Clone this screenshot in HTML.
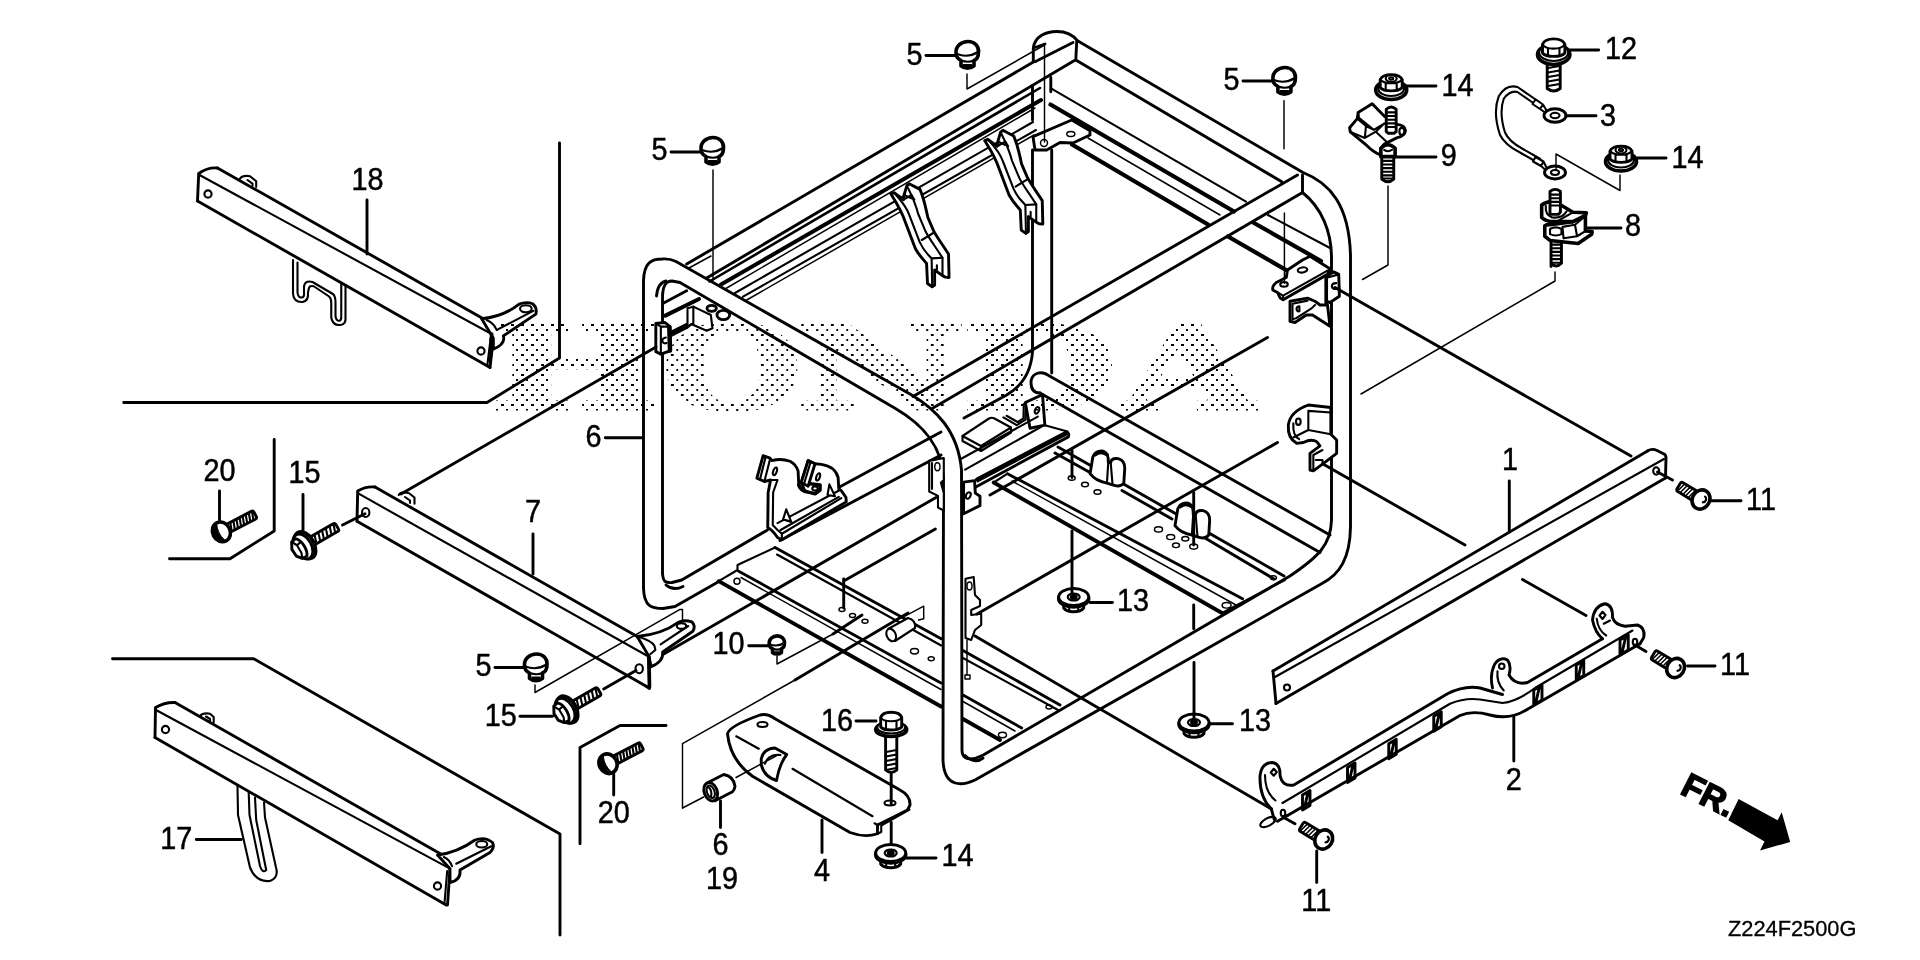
<!DOCTYPE html>
<html><head><meta charset="utf-8"><title>Frame parts diagram</title>
<style>
html,body{margin:0;padding:0;background:#fff;overflow:hidden}
svg{display:block;filter:grayscale(1)}
.k,.k *{stroke:#000;stroke-width:2.9;fill:none;vector-effect:non-scaling-stroke;stroke-linecap:round;stroke-linejoin:round}
.k .t,.t{stroke-width:1.45}
.k .m,.m{stroke-width:2.1}
.k .h,.h{stroke-width:3.6}
.k .w,.w{fill:#fff}
.k .b,.b{fill:#000}
text{font-family:"Liberation Sans",Arial,sans-serif;font-size:31px;fill:#000;stroke:#000;stroke-width:0.5px}
</style></head><body>
<svg width="1920" height="960" viewBox="0 0 1920 960">
<defs>
<pattern id="dots" x="1.4" y="3.5" width="10" height="10" patternUnits="userSpaceOnUse">
<rect x="0" y="0" width="2.2" height="2.2" fill="#000"/><rect x="5" y="5" width="2.2" height="2.2" fill="#000"/>
</pattern>
</defs>
<rect width="1920" height="960" fill="#fff"/>
<!--frame1.svg-->
<g class="k" id="frame-main">
<!-- A corner + A-D tube + D-D' vertical + D' corner + D'C' + C' + C vertical + C corner + B-C -->
<path d="M643.5,588 L643.5,281 C644,262 652,259 662,259 C669,258.5 672,259.5 676,261.5 L911.7,395 C935,409 958,430 961.5,470 L962,750 C962,757 966,760 975,758.5 L983.3,755 L1290,576 C1318,557 1331,545 1331.5,520 L1331.5,258 C1331.5,232 1322,208 1302.5,192.5"/>
<path d="M662.5,573 L662.5,298 C662.5,285 666,281 672,281 L680,282.5 L895,408.3 C922,424 942,445 943.5,478 L943,760 C944,788 962,786 975,780 L1322,583.5 C1340,574 1350,558 1350.5,527 L1350.5,255 C1349,205 1330,183 1303,172.5 L1077.5,40.8 C1073,35 1066,31.5 1057,31.5 C1046,31.5 1035,36 1033.3,48 L1033.3,62"/>
<path d="M656.5,296 C657.5,286 661,282 666,281"/>
<!-- A' corner -->
<path d="M643.5,588 C644,607 652,608.5 663,608.5 L675,606.5 L718,582"/>
<path d="M662.5,573 C663,582.5 666,583 672,582.5 L681.7,580 L767.5,530"/>
<path d="M666,585 C672,590 678,589 683,586.5"/>
<path d="M780,540.5 L941,455"/>
<path d="M840,486.7 L941,432"/>
<path d="M964,418 L1006.7,395 C1022,386 1031,372 1032.5,352 L1032.5,150"/>
<path d="M1051.7,373 L1051.7,150"/>
<path d="M965,755.5 C972,762 978,762 983,758"/>
<!-- B-C lower edge, C end face, D-C tube -->
<path d="M1075.8,60 L1281.7,181.7"/>
<path d="M1076.7,41.7 L1075.8,60"/>
<path d="M1302.5,175 L1302.5,192.5"/>
<path d="M913,396.5 L1297.5,175"/>
<path d="M931.7,408.7 L1302.5,192.5"/>
<!-- B'-C' cross tube with end cap -->
<path class="w" d="M1046,374 C1038,370.5 1031,375 1031,382.5 C1031,390 1035,393 1040,393"/>
<path d="M1046,374 L1330,535"/>
<path d="M1040,393 L1320,552.5"/>
<!-- B corner details -->
<path d="M1035,47.5 L1045,44"/>
<path d="M1035,61.7 L1073,42.5"/>
<path d="M1050.8,77.5 L1050.8,91.7"/>
<path d="M1032.5,85.8 L1032.5,120"/>
<!-- A-B tube edges -->
<path d="M686.7,264 L1032.5,62.5"/>
<path d="M706.7,278 L1074,60.8"/>
<path class="m" d="M709.500,281.500 L1040,88" style="stroke-width:2.6"/>
<path d="M721,284.500 L1041,100" style="stroke-width:4"/>
<path class="t" d="M725,289 L1035,108"/>
<path class="m" d="M735,293 L1033,122"/>
<path class="m" d="M743,296.7 L1036,130"/>
<path class="t" d="M746.7,300 L1034,135"/>
<path class="t" d="M689,268 L711,256"/>
<!-- rails B-C side -->
<path class="m" d="M1051,88.3 L1246,201.7 M1268,215 L1330,248"/>
<path d="M1050.5,104.5 L1234,211.5 M1254,223 L1321,261" style="stroke-width:4.2"/>
<path class="t" d="M1088,138 L1220,215"/>
<path d="M1072,144.5 L1208,224.5 M1228,236.5 L1287,270.5" style="stroke-width:4.2"/>
<!-- gusset at B -->
<path class="w" d="M1033,136.7 L1071.7,120 L1090,130.8 L1090,135 L1073,143 L1060,142.5 L1046.7,150 L1035,150 Z"/>
<ellipse cx="1070.8" cy="134" rx="4" ry="2.5" class="t"/>
<circle cx="1044" cy="143" r="3.5" class="t"/>
</g>

<!--frame2.svg-->
<!-- hangers -->
<g class="k" id="hangers" transform="translate(860 120) scale(.1875)">
<g id="hg1">
<path class="w" d="M165,395 L182,388 L232,425 L235,400 L250,350 L262,340 L320,370 C345,430 350,470 362,520 L392,590 C410,625 440,665 472,715 L475,840 L455,838 L440,830 L398,800 L398,880 L385,890 L360,872 L355,765 C340,745 320,730 295,685 L240,540 C220,480 200,450 165,395 Z"/>
<path class="m" d="M182,388 C215,425 245,455 262,505 L318,650 C340,700 365,720 382,738 L385,890"/>
<path class="m" d="M250,350 C275,400 295,440 310,500 L350,595 C370,635 395,665 440,735 L440,830"/>
<path class="m" d="M232,425 L275,400 L290,425 M235,400 L275,418 M330,640 L395,600 M382,738 L440,735 M410,775 L410,800"/>
</g>
<use href="#hg1" x="500" y="-285"/>
</g>
<!-- A corner bracket/hook -->
<g class="k" id="acorner" transform="translate(620 200) scale(.166667)">
<path d="M262,618 L400,545"/><path d="M272,694 L474,594" style="stroke-width:4"/><path d="M300,800 L430,735" style="stroke-width:4"/>
<path class="w" d="M215,740 L215,910 L245,925 L300,905 L300,760 L270,735 Z"/><path d="M296,762 L300,903" style="stroke-width:4.5"/>
<path class="m" d="M245,760 L245,925 M245,760 L215,740 M245,760 L300,760 M275,825 Q250,830 255,850 Q262,865 280,858"/>
<path class="w m" d="M405,650 L440,640 L545,690 L555,770 L520,785 L430,745 L405,765 Z"/>
<path class="m" d="M405,765 L300,820 M430,745 L320,800 M440,640 L440,745"/>
<ellipse cx="550" cy="650" rx="28" ry="18"/>
<ellipse cx="620" cy="690" rx="38" ry="28"/>
</g>
<!-- C corner gusset + hook -->
<g class="k" id="ccorner" transform="translate(1240 240) scale(.125)">
<path class="w" d="M262,400 Q255,370 290,340 L370,300 L380,240 L500,160 L560,130 L720,230 L700,275 L345,478 L320,462 L300,420 Z"/>
<path class="m" d="M300,420 L345,445 L700,245 M345,445 L345,478"/>
<ellipse class="m" cx="500" cy="240" rx="38" ry="20" transform="rotate(-10 500 240)"/>
<ellipse class="m" cx="352" cy="355" rx="30" ry="18"/>
<path class="w" d="M690,290 L750,255 L790,275 L795,450 L720,500 L690,490 Z"/>
<path class="h" d="M690,292 L690,515"/>
<path class="m" d="M700,300 L790,275 M770,345 Q735,345 735,372 Q740,395 770,392"/>
<path class="w" d="M400,490 L540,465 L600,490 L640,520 L700,520 L720,690 L580,600 L530,600 L440,660 L400,650 Z"/>
<path class="m" d="M420,510 L420,635 L450,625 L575,545 L600,520 M420,510 L540,485 M475,530 L475,570 Q455,575 452,550 Q455,530 475,530"/>
</g>
<!-- C' hook -->
<g class="k" id="cphook" transform="translate(1120 400) scale(.166667)">
<path class="w" d="M1265,45 L1130,30 Q1020,70 1010,150 Q1005,230 1060,260 L1100,255 Q1150,230 1180,250 L1200,275 L1140,320 L1140,420 L1160,425 L1215,385 L1300,320 L1300,240 L1265,205 Z"/>
<path class="m" d="M1130,65 L1130,180 L1040,225 M1130,180 L1265,205 M1040,140 Q1035,215 1075,235 M1130,65 L1265,75 M1160,425 L1160,330 L1215,300 M1175,360 L1215,360 L1215,385"/>
<ellipse class="m" cx="1070" cy="130" rx="14" ry="19"/>
</g>
<!-- inner bracket on A'B' tube -->
<g class="k" id="innerbr" transform="translate(740 430) scale(.125)">
<path class="w" d="M185,205 L240,225 L255,245 Q330,225 400,250 Q450,275 465,330 L470,440 Q485,480 520,490 L490,420 L545,245 L600,270 L650,275 Q760,290 785,380 L790,470 L810,485 L848,540 L850,575 L335,878 L300,860 Q260,800 222,780 L225,500 L245,400 L195,412 L135,385 Z"/>
<path class="m" d="M205,215 L160,395 M240,235 L195,412 M245,400 L300,400 L265,500 L262,760 L300,800 L335,830 L335,878 M300,745 L800,480 M335,830 L810,545 M325,800 L790,535"/>
<ellipse class="m" cx="280" cy="330" rx="14" ry="32" transform="rotate(20 280 330)"/>
<path class="w" d="M545,245 L490,420 L545,450 L600,270 Z"/>
<path class="m" d="M565,255 L512,432"/>
<ellipse class="m" cx="625" cy="375" rx="14" ry="30" transform="rotate(20 625 375)"/>
<path class="h" d="M470,440 Q490,490 540,495 L600,510 L640,480 L640,440 L560,430"/>
<ellipse class="m" cx="600" cy="468" rx="22" ry="16"/>
<path class="m w" d="M345,715 L370,635 L410,735 Z M700,520 L715,435 L760,530 Z"/>
</g>
<g class="k" id="bpbox">
<path class="w m" d="M962.5,436 L989,418.5 Q991.5,417 994,418.3 L1011,427.5 L1011,432.5 L981,451 L962.5,441 Z"/>
<path class="m" d="M962.5,436 L981,446 L1011,427.5 M981,446 L981,451"/>
</g>
<!-- B' bracket region (6.4x zoom origin 930,390) -->
<g class="k" id="bprime" transform="translate(930 390) scale(.15625)">
<path class="m" d="M470,175 L555,225 L612,190 L615,80 M490,165 L560,205 L598,182 L600,90"/>
<path class="w" d="M610,80 L720,30 L735,225 L640,245 Z"/>
<ellipse class="m" cx="685" cy="130" rx="13" ry="22" transform="rotate(25 685 130)"/>
<path class="m" d="M200,440 L690,170 M225,510 L712,235 M735,225 L880,265"/>
<path class="h" d="M300,572 L870,272"/>
<path class="m" d="M305,585 L872,285"/>
<path d="M870,268 Q895,275 885,300 L290,622"/>
<path class="w" d="M215,590 L285,580 L290,660 L320,680 L320,740 L215,792 Z"/>
<ellipse class="m" cx="245" cy="675" rx="14" ry="22" transform="rotate(25 245 675)"/>
</g>
<!-- base plate 1 (front-left) -->
<g class="k" id="plate1">
<path class="h" d="M718.7,581.2 L941,706.5 M963,719 L1000,740" style="stroke-width:3.8"/>
<path d="M738.7,571.2 L941,683 M963,695 L1021.7,728"/>
<path class="t" d="M741,577.5 L941,689.5 M963,701.5 L1015,731"/>
<path d="M775,547.5 L941.2,638.7 M963,650.5 L1060,705"/>
<path class="m" d="M777,554.5 L941.2,645.5 M963,658 L1058,710"/>
<path class="m" d="M718.7,581.2 L737.5,570 L737.5,565 L775,547.5"/>
<circle class="t" cx="737" cy="581.2" r="3"/>
<ellipse class="t" cx="842" cy="609.5" rx="3" ry="2"/>
<ellipse class="t" cx="852.5" cy="615.5" rx="3" ry="2"/>
<ellipse class="t" cx="865" cy="621.2" rx="3" ry="2"/>
<ellipse class="t" cx="914.5" cy="651.2" rx="4" ry="2.7"/>
<ellipse class="t" cx="931.2" cy="658.7" rx="3" ry="2"/>
<ellipse class="t" cx="1002.5" cy="735" rx="4" ry="2.7"/>
<ellipse class="t" cx="1049" cy="707" rx="3" ry="2"/>
<path class="w m" d="M888,629 L908,618 Q916,620 915,628 L895,641 Z"/>
<ellipse class="w m" cx="891.2" cy="635" rx="4.500" ry="6.500" transform="rotate(-25 891.2 635)"/>
<path class="t" d="M905,616.2 L923.7,606.2 L923.7,618.7 L918.7,620"/>
<!-- lower bracket on D tube right -->
<path class="m w" d="M965.500,578.700 L973.700,577 L975,595 L980,600 L980,606 L971.200,610 L971.200,615 L981.200,613.700 L981.200,625 L975,630 L971.200,640 L965.500,638 Z"/>
<ellipse class="t" cx="969.500" cy="586" rx="2.500" ry="4"/>
<path class="t" d="M967,640 L967,675 M965,675 L970,675 L970,679 L965,679 Z"/>
</g>
<!-- base plate 2 (back-right) -->
<g class="k" id="plate2">
<path class="h" d="M993.7,482.5 L1222,613" style="stroke-width:3.8"/>
<path d="M1007.5,473.7 L1242.5,598.7"/>
<path class="t" d="M1012,481 L1236,605"/>
<path d="M1058,447 L1095,468 M1120,482 L1178,515 M1208,532.500 L1284,576"/>
<path d="M1055,453 L1090,472.500 M1122,490.500 L1172,519 M1205,538 L1274,579"/>
<path class="m" d="M1222,613 L1285,580"/>
<path class="m" d="M993.7,482.5 L1007.5,473.7"/>
<ellipse class="t" cx="1071.7" cy="478" rx="3.500" ry="2.300"/>
<ellipse class="t" cx="1085" cy="484.5" rx="3.500" ry="2.300"/>
<ellipse class="t" cx="1097.5" cy="492" rx="3.500" ry="2.300"/>
<ellipse class="t" cx="1158.500" cy="529.400" rx="4" ry="2.600"/>
<ellipse class="t" cx="1170.700" cy="537" rx="4" ry="2.600"/>
<ellipse class="t" cx="1176" cy="545.300" rx="3.500" ry="2.300"/>
<ellipse class="t" cx="1185.300" cy="538.700" rx="3.500" ry="2.300"/>
<ellipse class="t" cx="1193.700" cy="546.600" rx="4" ry="2.600"/>
<ellipse class="t" cx="1226.600" cy="605.300" rx="4.500" ry="2.800"/>
<ellipse class="t" cx="1273.400" cy="577.700" rx="3" ry="2"/>
<g transform="translate(1100 460) scale(.1875)">
<g id="rmount">
<path class="w" d="M400,350 L415,260 Q430,225 470,230 Q500,240 497,290 L510,290 Q515,265 550,270 Q585,280 585,320 L580,400 Q560,425 520,410 L490,400 Q430,390 400,350 Z"/>
<path class="m" d="M497,290 L490,400 M510,290 L520,410"/>
<path class="h" d="M428,248 Q455,226 490,248"/>
</g>
<use href="#rmount" x="-453" y="-277"/>
</g>
</g>
<g class="k" id="dleft">
<path class="w m" d="M929.2,460.9 L943.8,458 L943.8,479.9 L940.9,482.8 L943.8,493 L943.8,510.5 L938,507.6 L938,495.9 L929.2,491.5 Z"/>
<ellipse class="t" cx="937.4" cy="466.7" rx="2.600" ry="4"/>
<path class="m" d="M932,463 L932,489"/>
</g>

<!--bars.svg-->
<g class="k" id="part18">
<path d="M217.5,168 L482,318"/>
<path class="m" d="M199.5,175 L493.5,335"/>
<path d="M197.5,201 L490,367.5"/>
<path d="M217.5,168 Q208,167 198.7,173.5 L197.5,201"/>
<path d="M493.7,335 L490,367.5"/>
<path class="m" d="M490.7,338 L487.3,365.5"/>
<circle class="m" cx="208" cy="194" r="3.6"/>
<circle class="m" cx="481" cy="351" r="3.6"/>
<path class="m" d="M240,178.7 Q242.5,175 250,176.2 L256.2,181.2 L256.2,187 M247.5,180 L252.5,183.7 L252.5,186"/>
<g transform="translate(100 130) scale(.25)">
<path class="m" d="M772,520 L772,655 Q775,690 810,688 Q835,685 832,650 L835,635 Q838,620 855,625 L915,665 Q925,672 925,690 L925,750 Q930,782 960,780 Q985,778 982,750 L982,620"/>
<path class="m" d="M790,530 L790,650 Q792,672 808,670 Q818,668 816,650 L816,625 Q820,600 850,608 L930,655 Q942,662 942,690 L942,745 Q945,765 958,763 Q966,760 965,745 L965,615"/>
</g>
<g transform="translate(440 280) scale(.083333)">
<path class="w" d="M500,465 Q760,440 950,290 Q1040,255 1110,285 Q1170,330 1150,410 L760,670 Q790,770 640,830 L640,700 Z"/>
<path class="m" d="M1120,370 L700,590 M560,480 Q650,520 680,600"/>
<ellipse class="m" cx="1030" cy="345" rx="70" ry="42"/>
<path class="h" d="M620,650 L600,960"/>
</g>
</g>
<g class="k" id="part7">
<path d="M375,487 L637.2,636.5"/>
<path class="m" d="M358.7,493.7 L648.5,656.5"/>
<path d="M357,521.2 L646.2,686.2"/>
<path d="M375,487 Q366,486 357.7,491 L357,521.2"/>
<path d="M648.5,656.5 L649.5,688.5 L646.2,686.2"/>
<ellipse class="m" cx="365.7" cy="512.5" rx="3.7" ry="4.5"/>
<ellipse class="m" cx="639.2" cy="668.7" rx="3.7" ry="4.5"/>
<path class="m" d="M398.7,495 Q401,491 408.7,493 L414.5,497.5 L414.5,503.7 M405,497 L410,500.5 L410,503"/>
<path class="w" d="M637.2,636.5 Q661.7,634.4 678.3,622.4 Q684,619.5 691.9,621.9 Q696,626 692.9,631.2 L662.7,652 Q663.7,661.5 651.2,666.7 L649,656.5 Z"/>
<path class="m" d="M688.2,626 L660.6,644.3 M639.3,637 Q652,641 654.4,645.8 L655.4,650 L650.2,654.2"/>
<ellipse class="m" cx="681.5" cy="626" rx="4.7" ry="2.9"/>
<path class="h" d="M649,657 L649.5,687"/>

</g>
<g class="k" id="part17">
<path d="M175,702.5 L442.5,855"/>
<path class="m" d="M156,710 L450,868.7"/>
<path d="M155,737.5 L446.2,905"/>
<path d="M175,702.5 Q165,702 155.5,707.5 L155,737.5"/>
<path d="M450,868.7 L447.5,905"/>
<path class="m" d="M447.2,871 L444.5,903"/>
<circle class="m" cx="165.5" cy="729.5" r="3.6"/>
<circle class="m" cx="437.5" cy="886" r="3.6"/>
<path class="m" d="M200,716.2 Q202.5,712.5 210,713.7 L213.7,717 L213.7,722.5 M206,716.5 L210,719 L210,722"/>
<path class="m" d="M237.5,786 L238,815 L250,867.5 Q256,882.5 270,881 Q279,877.5 276,867.5 L265,817.5 L264,802.5"/>
<path class="m" d="M248.7,792.5 L249.5,815 L260,866 Q262.5,873.7 266.2,870 L256.2,820 L255,797.5"/>
<g transform="translate(100 720) scale(.25)">
<path class="w" d="M1350,540 Q1430,530 1500,480 Q1540,465 1570,490 Q1580,510 1560,530 L1440,600 Q1445,640 1400,650 L1400,595 Z"/>
<path class="m" d="M1565,505 L1425,575 M1375,548 Q1400,560 1408,585"/>
<ellipse class="m" cx="1527" cy="497" rx="22" ry="13"/>
</g>
</g>
<g class="k" id="part1">
<path d="M1273,671 L1647.5,451"/>
<path class="m" d="M1275,677 L1664,459"/>
<path d="M1276,703.5 L1665.5,478"/>
<path d="M1273,671 L1276,703.5"/>
<path d="M1647.5,451 Q1652,448 1657,450.5 L1664,454 Q1666,455 1666,458 L1665.5,478"/>
<circle class="m" cx="1287" cy="687.5" r="3"/>
<ellipse class="m" cx="1656.2" cy="471" rx="3" ry="3.7"/>
</g>

<!--misc.svg-->
<g class="k" id="part2" transform="translate(1240 600) scale(.25)">
<path d="M125,835 Q78,790 80,705 Q85,650 130,650 Q162,655 160,700 Q168,748 215,740 L830,375 Q900,340 960,352 L1050,378"/>
<path class="m" d="M100,700 Q100,770 142,802"/>
<path class="m" d="M123,690 L135,675 L147,688 L135,703 Z"/>
<path class="m" d="M170,812 L840,415 Q900,390 960,398 L1050,412 Q1110,405 1180,352 L1570,122"/>
<path d="M190,862 L880,462 Q930,440 1000,460 Q1080,482 1150,437 L1600,175"/>
<path d="M1010,352 Q998,300 1018,258 Q1040,225 1070,240 Q1087,262 1076,300 Q1100,342 1150,330 L1450,155"/>
<path class="m" d="M1030,285 Q1025,330 1055,362"/>
<circle class="m" cx="1047" cy="265" r="11"/>
<path d="M1450,155 Q1420,130 1410,80 Q1415,25 1460,15 Q1492,20 1490,70 Q1500,100 1540,105 L1590,100 Q1622,110 1615,150 L1600,175"/>
<path class="m" d="M1427,75 Q1432,122 1465,142 M1455,95 L1480,82"/>
<path class="m" d="M1438,62 L1450,47 L1462,60 L1450,76 Z"/>
<ellipse class="m" cx="1580" cy="168" rx="9" ry="13"/>
<path d="M125,835 L137,878 M190,862 L150,885"/>
<ellipse class="m" cx="112" cy="888" rx="34" ry="15" transform="rotate(-28 112 888)"/>
<ellipse class="m" cx="172" cy="852" rx="9" ry="13"/>
<g class="t">
<path d="M250,780 L280,762 L280,822 L250,840 Z M257,836 L272,768"/>
<path d="M430,670 L460,652 L460,712 L430,730 Z M437,726 L452,658"/>
<path d="M595,575 L625,557 L625,617 L595,635 Z M602,631 L617,563"/>
<path d="M775,465 L805,447 L805,507 L775,525 Z M782,521 L797,453"/>
<path d="M1175,360 L1208,340 L1208,400 L1175,420 Z M1182,416 L1198,346"/>
<path d="M1345,260 L1375,242 L1375,302 L1345,320 Z M1352,316 L1367,248"/>
<path d="M1520,160 L1553,140 L1553,200 L1520,220 Z M1527,216 L1543,146"/>
</g>
</g>
<g class="k" id="part4" transform="translate(540 680) scale(.25)">
<path class="w" d="M750,215 Q755,185 880,140 Q910,133 940,155 L1440,440 Q1482,462 1480,500 L1470,520 L1350,580 L1350,615 Q1300,632 1240,610 L850,385 Q760,320 750,215 Z"/>
<path class="m" d="M785,225 L875,275 M1010,355 L1330,545"/>
<path class="m" d="M1350,615 L1365,608 L1365,582 L1478,518 M1350,580 L1338,573"/>
<path d="M885,315 Q893,275 940,272 L987,298 Q958,335 946,402 Q898,388 885,340 Z"/>
<path class="m" d="M900,335 Q912,296 962,300"/>
<ellipse class="m" cx="890" cy="178" rx="20" ry="10"/>
<ellipse class="m" cx="1400" cy="492" rx="22" ry="10"/>
<!-- collar 19 -->
<path class="w" d="M668,412 L735,378 Q775,385 780,425 Q778,440 770,447 L700,483 Z"/>
<ellipse class="w" cx="683" cy="447" rx="26" ry="38" transform="rotate(-20 683 447)"/>
<ellipse class="m" cx="683" cy="447" rx="15" ry="26" transform="rotate(-20 683 447)"/>
<path class="m" d="M676,430 Q690,445 684,468"/>
</g>
<g class="k m" id="thinlines">
<path d="M891.2,774 L891.2,804"/>
<path d="M891.2,822.5 L891.2,845"/>
</g>
<!-- bolt 16 -->
<g class="k" id="bolt16">
<path class="w" d="M885.6,733 L885.6,770 Q891.2,775 896.8,770 L896.8,733 Z"/>
<path class="m" d="M886,752 L896.5,750 M886,756.500 L896.5,754.500 M886,761 L896.5,759 M886,765.500 L896.5,763.500 M886,770 L896.5,768"/>
<ellipse class="w h" cx="891.2" cy="729.500" rx="15.5" ry="7"/>
<ellipse class="w m" cx="891.2" cy="727.500" rx="14" ry="6"/>
<path class="w" d="M880.7,727 L880.7,717.500 C883,710.500 899.400,710.500 901.700,717.500 L901.700,727 C898,731 884,731 880.700,727 Z"/>
<path class="m" d="M880.7,717.500 C884,722.500 898,722.500 901.700,717.500 M886,721 L886,729.500 M896.5,721 L896.5,729.500"/>
</g>
<!-- bolt 12 -->
<g class="k" id="bolt12">
<path class="w" d="M1547.2,60 L1547.2,88.500 Q1553.700,93.500 1560.200,88.500 L1560.200,60 Z"/>
<path class="m" d="M1548,68 L1559.500,66 M1548,72.500 L1559.500,70.500 M1548,77 L1559.500,75 M1548,81.500 L1559.500,79.500 M1548,86 L1559.500,84"/>
<ellipse class="w h" cx="1553.7" cy="54.500" rx="16.2" ry="10"/>
<ellipse class="w m" cx="1553.7" cy="52.500" rx="14.5" ry="8.500"/>
<path class="w" d="M1542.500,53 L1542.500,44.500 C1545,37 1562.400,37 1564.900,44.500 L1564.900,53 C1561,57.500 1546,57.500 1542.500,53 Z"/>
<path class="m" d="M1542.500,44.500 C1546,50 1561,50 1564.900,44.500 M1548,48.500 L1548,56 M1559.500,48.500 L1559.500,56"/>
</g>
<!-- cable 3 -->
<g class="k" id="cable3" transform="translate(1320 0) scale(.25)">
<path class="m" d="M880,410 L790,348 Q745,335 715,385 Q690,450 720,540 Q740,580 800,610 L870,650"/>
<path class="m" d="M870,424 L790,368 Q760,360 735,395 Q715,450 740,530 Q755,565 810,595 L880,635"/>
<path class="m w" d="M862,398 L892,418 L880,436 L850,416 Z M892,418 L905,440 M880,436 L900,450"/>
<ellipse class="w" cx="940" cy="462" rx="44" ry="27"/>
<ellipse class="m" cx="940" cy="462" rx="18" ry="11"/>
<path class="m w" d="M862,628 L894,646 L884,664 L852,646 Z M894,646 L905,668 M884,664 L900,678"/>
<ellipse class="w" cx="940" cy="690" rx="42" ry="26"/>
<ellipse class="m" cx="940" cy="690" rx="16" ry="10"/>
</g>
<!-- part 9 -->
<g class="k" id="part9" transform="translate(1330 90) scale(.104167)">
<path class="w" d="M405,132 L270,215 L262,275 L188,362 L195,402 L355,535 Q420,600 490,625 L500,560 Q500,520 550,505 L640,460 Q720,440 725,390 Q720,335 640,330 L520,250 Z"/>
<path class="m" d="M270,215 L278,268 L420,382 L520,322 M262,275 L345,345 L335,460 L440,400 M345,345 L420,382 M335,460 L195,402 M440,400 L550,505 M440,400 L520,322 L640,330"/>
<ellipse class="m" cx="690" cy="398" rx="24" ry="34"/>
<path class="w" d="M540,400 L540,185 Q587,140 635,185 L635,400 L615,415 L560,415 Z"/>
<path class="m" d="M545,215 L630,215 M545,250 L630,250 M545,285 L630,285 M545,320 L630,320 M545,355 L630,355"/>
<path class="w" d="M497,640 L497,855 Q555,905 612,855 L612,640 Z"/>
<path class="m" d="M500,680 L610,680 M500,715 L610,715 M500,750 L610,750 M500,785 L610,785 M500,820 L610,820 M500,850 L610,850"/>
<path class="w h" d="M488,640 L488,560 Q555,490 625,560 L625,640 Z"/>
<path class="m" d="M520,575 Q555,600 595,575"/>
</g>
<!-- part 8 -->
<g class="k" id="part8" transform="translate(1500 180) scale(.104167)">
<path class="w" d="M490,830 L490,580 L590,580 L590,800 Q540,850 490,800 Z"/>
<path class="m" d="M495,620 L585,620 M495,655 L585,655 M495,690 L585,690 M495,725 L585,725 M495,760 L585,760 M495,795 L585,795"/>
<path class="w h" d="M430,440 L430,540 L480,580 L750,610 L880,520 L885,495 L820,490 L820,340 L700,400 L480,430 Q445,425 430,440 Z"/>
<path class="m" d="M600,450 L720,430 L740,540 L610,560 Z M720,430 L820,345 M740,540 L820,490 M480,470 Q535,440 590,470 L590,520 Q535,545 480,520 Z"/>
<path class="w h" d="M400,240 L400,360 Q440,400 520,400 L700,400 L820,340 L830,315 L700,310 L600,250 Q500,170 400,240 Z"/>
<path class="m" d="M440,250 Q430,330 500,360 Q600,370 640,300 M560,390 L700,310"/>
<path class="w" d="M480,330 L480,110 Q530,70 580,110 L580,310 L560,330 Z"/>
<path class="m" d="M485,140 L575,140 M485,175 L575,175 M485,210 L575,210 M485,245 L575,245"/>
</g>

<!--hardware-->
<g class="k" transform="translate(967.5 52) scale(1.0)">
<path class="w h" d="M-11.5,1 C-12,-6 -6,-10.5 0.5,-10.5 C7,-10.5 11.5,-6 11,0 C11,4 9,7.5 6.5,8.5 L6.5,14 C3,17 -3,17 -6.5,14 L-6.5,8.5 C-9.5,7 -11.5,4.5 -11.5,1 Z"/>
<path class="m" d="M-10.5,2 C-4,4.5 4,4 10.5,0"/>
<path class="m" d="M-6.5,8.5 C-2,10 3,10 6.5,8.5"/>
<path class="b" d="M-4.5,12 L4.5,12 L4.5,15 C2,16 -2,16 -4.5,15 Z" style="stroke:none"/>
</g>
<g class="k" transform="translate(712.5 148) scale(1.0)">
<path class="w h" d="M-11.5,1 C-12,-6 -6,-10.5 0.5,-10.5 C7,-10.5 11.5,-6 11,0 C11,4 9,7.5 6.5,8.5 L6.5,14 C3,17 -3,17 -6.5,14 L-6.5,8.5 C-9.5,7 -11.5,4.5 -11.5,1 Z"/>
<path class="m" d="M-10.5,2 C-4,4.5 4,4 10.5,0"/>
<path class="m" d="M-6.5,8.5 C-2,10 3,10 6.5,8.5"/>
<path class="b" d="M-4.5,12 L4.5,12 L4.5,15 C2,16 -2,16 -4.5,15 Z" style="stroke:none"/>
</g>
<g class="k" transform="translate(1284.4 78) scale(1.0)">
<path class="w h" d="M-11.5,1 C-12,-6 -6,-10.5 0.5,-10.5 C7,-10.5 11.5,-6 11,0 C11,4 9,7.5 6.5,8.5 L6.5,14 C3,17 -3,17 -6.5,14 L-6.5,8.5 C-9.5,7 -11.5,4.5 -11.5,1 Z"/>
<path class="m" d="M-10.5,2 C-4,4.5 4,4 10.5,0"/>
<path class="m" d="M-6.5,8.5 C-2,10 3,10 6.5,8.5"/>
<path class="b" d="M-4.5,12 L4.5,12 L4.5,15 C2,16 -2,16 -4.5,15 Z" style="stroke:none"/>
</g>
<g class="k" transform="translate(536 664.5) scale(1.0)">
<path class="w h" d="M-11.5,1 C-12,-6 -6,-10.5 0.5,-10.5 C7,-10.5 11.5,-6 11,0 C11,4 9,7.5 6.5,8.5 L6.5,14 C3,17 -3,17 -6.5,14 L-6.5,8.5 C-9.5,7 -11.5,4.5 -11.5,1 Z"/>
<path class="m" d="M-10.5,2 C-4,4.5 4,4 10.5,0"/>
<path class="m" d="M-6.5,8.5 C-2,10 3,10 6.5,8.5"/>
<path class="b" d="M-4.5,12 L4.5,12 L4.5,15 C2,16 -2,16 -4.5,15 Z" style="stroke:none"/>
</g>
<g class="k" transform="translate(777 643) scale(0.68)">
<path class="w h" d="M-11.5,1 C-12,-6 -6,-10.5 0.5,-10.5 C7,-10.5 11.5,-6 11,0 C11,4 9,7.5 6.5,8.5 L6.5,14 C3,17 -3,17 -6.5,14 L-6.5,8.5 C-9.5,7 -11.5,4.5 -11.5,1 Z"/>
<path class="m" d="M-10.5,2 C-4,4.5 4,4 10.5,0"/>
<path class="m" d="M-6.5,8.5 C-2,10 3,10 6.5,8.5"/>
<path class="b" d="M-4.5,12 L4.5,12 L4.5,15 C2,16 -2,16 -4.5,15 Z" style="stroke:none"/>
</g>
<g class="k" transform="translate(1701 499.5) rotate(211)">
<path class="w" d="M7.4,-5.2 L24,-5.2 Q26,-5.2 26,-3.2 L26,3.2 Q26,5.2 24,5.2 L7.4,5.2 Z"/>
<path class="t" d="M11.9,-4.7 l-2.5,9.4"/><path class="t" d="M15.1,-4.7 l-2.5,9.4"/><path class="t" d="M18.2,-4.7 l-2.5,9.4"/><path class="t" d="M21.4,-4.7 l-2.5,9.4"/><path class="t" d="M24.5,-4.7 l-2.5,9.4"/>
<ellipse class="w h" cx="0" cy="0" rx="8.6" ry="9.9"/>
<path class="m" d="M-2,4.5 C-5,4 -5.5,0 -3,-1.5"/>
</g>
<g class="k" transform="translate(1675.6 668) rotate(211)">
<path class="w" d="M7.4,-5.2 L24,-5.2 Q26,-5.2 26,-3.2 L26,3.2 Q26,5.2 24,5.2 L7.4,5.2 Z"/>
<path class="t" d="M11.9,-4.7 l-2.5,9.4"/><path class="t" d="M15.1,-4.7 l-2.5,9.4"/><path class="t" d="M18.2,-4.7 l-2.5,9.4"/><path class="t" d="M21.4,-4.7 l-2.5,9.4"/><path class="t" d="M24.5,-4.7 l-2.5,9.4"/>
<ellipse class="w h" cx="0" cy="0" rx="8.6" ry="9.9"/>
<path class="m" d="M-2,4.5 C-5,4 -5.5,0 -3,-1.5"/>
</g>
<g class="k" transform="translate(1323.7 839.5) rotate(211)">
<path class="w" d="M7.4,-5.2 L24,-5.2 Q26,-5.2 26,-3.2 L26,3.2 Q26,5.2 24,5.2 L7.4,5.2 Z"/>
<path class="t" d="M11.9,-4.7 l-2.5,9.4"/><path class="t" d="M15.1,-4.7 l-2.5,9.4"/><path class="t" d="M18.2,-4.7 l-2.5,9.4"/><path class="t" d="M21.4,-4.7 l-2.5,9.4"/><path class="t" d="M24.5,-4.7 l-2.5,9.4"/>
<ellipse class="w h" cx="0" cy="0" rx="8.6" ry="9.9"/>
<path class="m" d="M-2,4.5 C-5,4 -5.5,0 -3,-1.5"/>
</g>
<g class="k" transform="translate(221.4 531.9) rotate(-27.5)">
<path class="w" d="M7.6,-4.4 L36,-4.4 Q38,-4.4 38,-2.4 L38,2.4 Q38,4.4 36,4.4 L7.6,4.4 Z"/>
<path class="m" d="M12.1,-3.9 l-2.5,7.8"/><path class="m" d="M15.6,-3.9 l-2.5,7.8"/><path class="m" d="M19.1,-3.9 l-2.5,7.8"/><path class="m" d="M22.6,-3.9 l-2.5,7.8"/><path class="m" d="M26,-3.9 l-2.5,7.8"/><path class="m" d="M29.5,-3.9 l-2.5,7.8"/><path class="m" d="M33,-3.9 l-2.5,7.8"/><path class="m" d="M36.5,-3.9 l-2.5,7.8"/>
<ellipse class="w h" cx="0" cy="0" rx="8.8" ry="10.1"/>
<path class="b" d="M-1,-8.1 C-3,-3 -3,3 -1,8.1 C-11.6,6.6 -11.6,-6.6 -1,-8.1 Z" style="stroke-width:1"/>
</g>
<g class="k" transform="translate(608 763.7) rotate(-27.5)">
<path class="w" d="M7.6,-4.4 L36,-4.4 Q38,-4.4 38,-2.4 L38,2.4 Q38,4.4 36,4.4 L7.6,4.4 Z"/>
<path class="m" d="M12.1,-3.9 l-2.5,7.8"/><path class="m" d="M15.6,-3.9 l-2.5,7.8"/><path class="m" d="M19.1,-3.9 l-2.5,7.8"/><path class="m" d="M22.6,-3.9 l-2.5,7.8"/><path class="m" d="M26,-3.9 l-2.5,7.8"/><path class="m" d="M29.5,-3.9 l-2.5,7.8"/><path class="m" d="M33,-3.9 l-2.5,7.8"/><path class="m" d="M36.5,-3.9 l-2.5,7.8"/>
<ellipse class="w h" cx="0" cy="0" rx="8.8" ry="10.1"/>
<path class="b" d="M-1,-8.1 C-3,-3 -3,3 -1,8.1 C-11.6,6.6 -11.6,-6.6 -1,-8.1 Z" style="stroke-width:1"/>
</g>
<g class="k" transform="translate(301.6 547.2) rotate(-30)">
<path class="w" d="M8,-4.5 L39,-4.5 Q41,-4.5 41,-2.5 L41,2.5 Q41,4.5 39,4.5 L8,4.5 Z"/>
<path class="m" d="M13,-4 l-2.5,8"/><path class="m" d="M17.3,-4 l-2.5,8"/><path class="m" d="M21.7,-4 l-2.5,8"/><path class="m" d="M26,-4 l-2.5,8"/><path class="m" d="M30.3,-4 l-2.5,8"/><path class="m" d="M34.7,-4 l-2.5,8"/><path class="m" d="M39,-4 l-2.5,8"/>
<ellipse class="w h" cx="4" cy="0" rx="9" ry="14.5"/>
<ellipse class="w" cx="1.5" cy="0" rx="8.5" ry="13.5"/>
<path class="w" d="M-1,-10.5 L-6,-9.5 L-9.5,-3 L-9,5 L-5,10 L0,10.5 C4,6 4,-6 -1,-10.5 Z"/>
<path class="m" d="M-6,-9.5 L-3,-4 L-3,5 L-5,10 M-3,-4 L2,-5"/>
</g>
<g class="k" transform="translate(563.7 711.5) rotate(-30)">
<path class="w" d="M8,-4.5 L39,-4.5 Q41,-4.5 41,-2.5 L41,2.5 Q41,4.5 39,4.5 L8,4.5 Z"/>
<path class="m" d="M13,-4 l-2.5,8"/><path class="m" d="M17.3,-4 l-2.5,8"/><path class="m" d="M21.7,-4 l-2.5,8"/><path class="m" d="M26,-4 l-2.5,8"/><path class="m" d="M30.3,-4 l-2.5,8"/><path class="m" d="M34.7,-4 l-2.5,8"/><path class="m" d="M39,-4 l-2.5,8"/>
<ellipse class="w h" cx="4" cy="0" rx="9" ry="14.5"/>
<ellipse class="w" cx="1.5" cy="0" rx="8.5" ry="13.5"/>
<path class="w" d="M-1,-10.5 L-6,-9.5 L-9.5,-3 L-9,5 L-5,10 L0,10.5 C4,6 4,-6 -1,-10.5 Z"/>
<path class="m" d="M-6,-9.5 L-3,-4 L-3,5 L-5,10 M-3,-4 L2,-5"/>
</g>
<g class="k" transform="translate(1391.2 88.5) scale(1.0)">
<ellipse class="w h" cx="0" cy="1.5" rx="15.5" ry="9.5"/>
<ellipse class="w m" cx="0" cy="0" rx="13" ry="7.5"/>
<path class="w" d="M-11,-1 L-11,-9 C-8,-15.5 8,-15.5 11,-9 L11,-1 C7,3.5 -7,3.5 -11,-1 Z"/>
<path class="m" d="M-5.5,2 L-5.5,-5.5 M5.5,2 L5.5,-5.5 M-11,-9 C-7,-4 7,-4 11,-9"/>
<ellipse class="m" cx="0" cy="-10" rx="5.5" ry="3.5"/>
<ellipse class="m" cx="0" cy="-10" rx="2" ry="1.2"/>
</g>
<g class="k" transform="translate(1621 160) scale(1.0)">
<ellipse class="w h" cx="0" cy="1.5" rx="15.5" ry="9.5"/>
<ellipse class="w m" cx="0" cy="0" rx="13" ry="7.5"/>
<path class="w" d="M-11,-1 L-11,-9 C-8,-15.5 8,-15.5 11,-9 L11,-1 C7,3.5 -7,3.5 -11,-1 Z"/>
<path class="m" d="M-5.5,2 L-5.5,-5.5 M5.5,2 L5.5,-5.5 M-11,-9 C-7,-4 7,-4 11,-9"/>
<ellipse class="m" cx="0" cy="-10" rx="5.5" ry="3.5"/>
<ellipse class="m" cx="0" cy="-10" rx="2" ry="1.2"/>
</g>
<g class="k" transform="translate(890.7 853) scale(1.0)">
<path class="w" d="M-10,3 L-10,11 C-6,16 6,16 10,11 L10,3 Z"/>
<path class="m" d="M-4.500,8 L-4.500,14 M4.500,8 L4.500,14"/>
<ellipse class="w h" cx="0" cy="1.5" rx="15" ry="8.5"/>
<ellipse class="w" cx="0" cy="0" rx="15" ry="8.500"/>
<ellipse class="m" cx="0" cy="0" rx="6" ry="3.5"/>
<ellipse class="b" cx="0" cy="0" rx="2.5" ry="1.5"/>
</g>
<g class="k" transform="translate(1073.7 597) scale(1.0)">
<path class="w" d="M-10,3 L-10,11 C-6,16 6,16 10,11 L10,3 Z"/>
<path class="m" d="M-4.500,8 L-4.500,14 M4.500,8 L4.500,14"/>
<ellipse class="w h" cx="0" cy="1.5" rx="15" ry="8.5"/>
<ellipse class="w" cx="0" cy="0" rx="15" ry="8.500"/>
<ellipse class="m" cx="0" cy="0" rx="6" ry="3.5"/>
<ellipse class="b" cx="0" cy="0" rx="2.5" ry="1.5"/>
</g>
<g class="k" transform="translate(1194 722.5) scale(1.0)">
<path class="w" d="M-10,3 L-10,11 C-6,16 6,16 10,11 L10,3 Z"/>
<path class="m" d="M-4.500,8 L-4.500,14 M4.500,8 L4.500,14"/>
<ellipse class="w h" cx="0" cy="1.5" rx="15" ry="8.5"/>
<ellipse class="w" cx="0" cy="0" rx="15" ry="8.500"/>
<ellipse class="m" cx="0" cy="0" rx="6" ry="3.5"/>
<ellipse class="b" cx="0" cy="0" rx="2.5" ry="1.5"/>
</g>
<g id="labels" text-anchor="middle" >
<text transform="translate(367.5 189.5) scale(.93 1)">18</text>
<text transform="translate(219.5 481) scale(.93 1)">20</text>
<text transform="translate(304.5 483) scale(.93 1)">15</text>
<text transform="translate(533 521.5) scale(.93 1)">7</text>
<text transform="translate(483.5 675.5) scale(.93 1)">5</text>
<text transform="translate(728.5 653.8) scale(.93 1)">10</text>
<text transform="translate(914.5 64.5) scale(.93 1)">5</text>
<text transform="translate(659.5 160) scale(.93 1)">5</text>
<text transform="translate(1231.5 90) scale(.93 1)">5</text>
<text transform="translate(593.5 447.3) scale(.93 1)">6</text>
<text transform="translate(1621 58.8) scale(.93 1)">12</text>
<text transform="translate(1457.5 95.5) scale(.93 1)">14</text>
<text transform="translate(1608 125.5) scale(.93 1)">3</text>
<text transform="translate(1448.8 165.8) scale(.93 1)">9</text>
<text transform="translate(1687.5 167.5) scale(.93 1)">14</text>
<text transform="translate(1633 236.3) scale(.93 1)">8</text>
<text transform="translate(1510 470) scale(.93 1)">1</text>
<text transform="translate(1761 510) scale(.93 1)">11</text>
<text transform="translate(1735 674.6) scale(.93 1)">11</text>
<text transform="translate(1316.3 911.3) scale(.93 1)">11</text>
<text transform="translate(1513.8 790) scale(.93 1)">2</text>
<text transform="translate(1133 611.3) scale(.93 1)">13</text>
<text transform="translate(1255 731.3) scale(.93 1)">13</text>
<text transform="translate(176.3 848.8) scale(.93 1)">17</text>
<text transform="translate(500.8 725.8) scale(.93 1)">15</text>
<text transform="translate(613.8 823) scale(.93 1)">20</text>
<text transform="translate(720.5 855) scale(.93 1)">6</text>
<text transform="translate(722 888.8) scale(.93 1)">19</text>
<text transform="translate(822 881) scale(.93 1)">4</text>
<text transform="translate(837 730.5) scale(.93 1)">16</text>
<text transform="translate(957.5 866) scale(.93 1)">14</text>
<text x="1728" y="935.5" text-anchor="start" style="font-size:21.8px;stroke-width:0.3px">Z224F2500G</text>
<text x="1679" y="793" text-anchor="start" style="font-size:34px;font-weight:bold;stroke-width:1.6px" transform="rotate(27 1679 793)">FR.</text>
</g>
<path d="M1738.6,799.1 L1777.6,820.2 L1781.7,812.2 L1790.2,842 L1760,850.5 L1764.5,841.5 L1728.3,820.2 Z" fill="#000"/>
<g class="k" id="leaders">
<!-- separators -->
<path d="M123.7,402.5 L487,402.5 L559.5,358 L559.5,143"/>
<path d="M274.2,439.5 L274.2,531 L230,558.7 L169.5,558.7"/>
<path d="M112.5,658.7 L253.7,658.7 L560,834 L560,935"/>
<path d="M666,725.5 L620,725.5 L580,747.5 L580,843.7"/>
<!-- label leaders (thin-ish) -->
<g class="m">
<path d="M1243,81 L1273,81"/>
<path class="t" d="M1284,100.6 L1284,148.7 M1284.4,213 L1284.4,283"/>
<path d="M605.3,437.7 L642.5,437.7"/>
<path d="M367,200 L367,254"/>
<path d="M219.5,491 L219.5,520"/>
<path d="M303,494.5 L303,532.5"/>
<path d="M533,534 L533,574"/>
<path d="M495,667.5 L525,667.5"/>
<path class="t" d="M535,685 L535,692.5 L680,609.4 L682.5,609.4 L682.5,621"/>
<path d="M748.7,645.7 L768,645.7"/>
<path class="t" d="M777,656 L777,664 L833,634"/>
<path d="M926,55.5 L955,55.5"/>
<path class="t" d="M967,74 L967,89 L1044.5,45 L1044.5,142"/>
<path d="M671,152 L700,152"/>
<path class="t" d="M713,170 L713,280"/>
<path d="M1570,50 L1598.7,50"/>
<path d="M1406,86 L1436,86"/>
<path d="M1566,115.7 L1596,115.7"/>
<path d="M1395,157 L1436,157"/>
<path d="M1637.5,158 L1666,158"/>
<path d="M1586,228 L1621,228"/>
<path class="t" d="M1620,175 L1620,190.5 L1556,154 L1556,170"/>
<path class="t" d="M1388,186 L1388,265 L1362.5,279.5"/>
<path class="t" d="M1555,272 L1555,281 L1361,394"/>
<path d="M1509.3,481 L1509.3,532"/>
<path d="M1711,500.7 L1741,500.7"/>
<path d="M1687.5,666 L1715,666"/>
<path d="M1316.7,851 L1316.7,882.5"/>
<path d="M1513.8,716 L1513.8,761"/>
<path d="M1090,602.5 L1112.5,602.5"/>
<path d="M1210,723.7 L1232.5,723.7"/>
<path d="M196.3,839.5 L241.3,839.5"/>
<path d="M520,716.3 L552.5,716.3"/>
<path d="M613.7,773.7 L613.7,795"/>
<path d="M720.5,801 L720.5,827.5"/>
<path d="M822,820 L822,852.5"/>
<path d="M856,721 L876,721"/>
<path d="M906,858 L936,858"/>
<path class="t" d="M682.5,808 L682.5,743.7 L795,680"/>
<path class="t" d="M682.5,808 L703.7,797"/>
<path class="t" d="M736,777.5 L776,756"/>
</g>
</g>
<g class="k" id="longleaders"><g class="t">
<path d="M401,494 L656,347"/>
<path d="M663.7,654 L936,497.5"/>
<path d="M833,634 L862,615"/>
<path d="M843.7,579 L843.7,608"/>
<path d="M843.7,581 L935.4,529"/>
<path d="M795,680 L908,613"/>
<path d="M1335,287.5 L1631,456"/>
<path d="M1323,464 L1465,545"/>
<path d="M1522.5,579.5 L1586,615.5"/>
<path d="M977,614 L1277.5,442.5"/>
<path d="M975,636 L1271,808.7"/>
<path d="M990,495 L1267.5,337.5"/>
<path d="M1072,450 L1072,477.5 M1072,531 L1072,592.5"/>
<path d="M1193.7,492.5 L1193.7,545 M1193.7,605 L1193.7,628.7 M1194,662.5 L1194,721"/>
<path d="M342.5,525 L365,513.7"/>
<path d="M603.7,689 L636,670.4"/>
<path d="M1657.5,472 L1672.5,480"/>
<path d="M1635,645 L1646,651.5"/>
<path d="M1283.7,817.5 L1295,823.7"/>
</g></g>
<!--watermark-->
<defs>
<pattern id="d0" width="10" height="10" patternUnits="userSpaceOnUse" patternTransform="scale(0.63899 1) translate(-489.271 -408.800)"><rect x="1" y="4" width="3" height="2" fill="#000" shape-rendering="crispEdges"/><rect x="6" y="9" width="2.4" height="2" fill="#000" shape-rendering="crispEdges"/><rect x="6" y="-1" width="2.4" height="2" fill="#000" shape-rendering="crispEdges"/></pattern>
<pattern id="d1" width="10" height="10" patternUnits="userSpaceOnUse" patternTransform="scale(0.71654 1) translate(-661.348 -408.800)"><rect x="1" y="4" width="3" height="2" fill="#000" shape-rendering="crispEdges"/><rect x="6" y="9" width="2.4" height="2" fill="#000" shape-rendering="crispEdges"/><rect x="6" y="-1" width="2.4" height="2" fill="#000" shape-rendering="crispEdges"/></pattern>
<pattern id="d2" width="10" height="10" patternUnits="userSpaceOnUse" patternTransform="scale(0.61905 1) translate(-795.615 -408.800)"><rect x="1" y="4" width="3" height="2" fill="#000" shape-rendering="crispEdges"/><rect x="6" y="9" width="2.4" height="2" fill="#000" shape-rendering="crispEdges"/><rect x="6" y="-1" width="2.4" height="2" fill="#000" shape-rendering="crispEdges"/></pattern>
<pattern id="d3" width="10" height="10" patternUnits="userSpaceOnUse" patternTransform="scale(0.64514 1) translate(-961.335 -408.800)"><rect x="1" y="4" width="3" height="2" fill="#000" shape-rendering="crispEdges"/><rect x="6" y="9" width="2.4" height="2" fill="#000" shape-rendering="crispEdges"/><rect x="6" y="-1" width="2.4" height="2" fill="#000" shape-rendering="crispEdges"/></pattern>
<pattern id="d4" width="10" height="10" patternUnits="userSpaceOnUse" patternTransform="scale(0.66784 1) translate(-1121.693 -408.800)"><rect x="1" y="4" width="3" height="2" fill="#000" shape-rendering="crispEdges"/><rect x="6" y="9" width="2.4" height="2" fill="#000" shape-rendering="crispEdges"/><rect x="6" y="-1" width="2.4" height="2" fill="#000" shape-rendering="crispEdges"/></pattern>
</defs>
<g id="watermark">
<text transform="translate(489.271 408.800) scale(1.56496 1)" style="font-family:'DejaVu Serif',serif;font-weight:bold;font-size:116.0px;fill:url(#d0);stroke:url(#d0);stroke-width:3.0px">H</text>
<text transform="translate(661.348 408.800) scale(1.39560 1)" style="font-family:'DejaVu Serif',serif;font-weight:bold;font-size:116.0px;fill:url(#d1);stroke:url(#d1);stroke-width:3.0px">O</text>
<text transform="translate(795.615 408.800) scale(1.61538 1)" style="font-family:'DejaVu Serif',serif;font-weight:bold;font-size:116.0px;fill:url(#d2);stroke:url(#d2);stroke-width:3.0px">N</text>
<text transform="translate(961.335 408.800) scale(1.55005 1)" style="font-family:'DejaVu Serif',serif;font-weight:bold;font-size:116.0px;fill:url(#d3);stroke:url(#d3);stroke-width:3.0px">D</text>
<text transform="translate(1121.693 408.800) scale(1.49736 1)" style="font-family:'DejaVu Serif',serif;font-weight:bold;font-size:116.0px;fill:url(#d4);stroke:url(#d4);stroke-width:3.0px">A</text>
</g>
</svg>
</body></html>
